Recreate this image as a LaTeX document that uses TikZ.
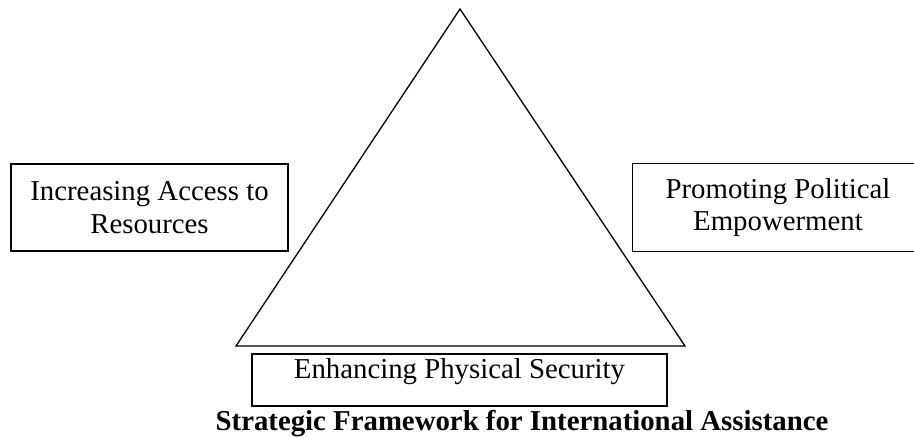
\documentclass[tikz,border=0pt]{standalone}
\usepackage{fontspec}
\setmainfont{Liberation Serif}
\begin{document}
\begin{tikzpicture}[x=1pt,y=-1pt,
  framebox/.style={draw=black, line width=1.3pt, inner sep=0pt, align=center,
    font=\fontsize{28.8}{32.5}\selectfont},
  openbox/.style={inner sep=0pt, align=center, font=\fontsize{28.8}{32.5}\selectfont},
  outline/.style={draw=black, line width=1.3pt},
  titletext/.style={inner sep=0pt, font=\fontsize{28.8}{32.5}\selectfont\bfseries}]
\useasboundingbox (0,0) rectangle (914,437);
\begin{scope}
\clip (0,0) rectangle (914,437);
\coordinate (apex) at (460,9);
\coordinate (bl) at (236,346);
\coordinate (br) at (685,346);
\draw[outline, line join=miter] (apex) -- (bl) -- (br) -- cycle;
\node[framebox, minimum width=277pt, minimum height=87pt] (res) at (149.5,207.5) {Increasing Access to\\Resources};
\node[openbox, minimum width=290pt, minimum height=87pt] (pol) at (778,207.5) {Promoting Political\\Empowerment};
\draw[outline] (pol.north east) -- (pol.north west) -- (pol.south west) -- (pol.south east);
\node[framebox, minimum width=415pt, minimum height=52pt, text height=24pt, text depth=28pt] (sec) at (459.5,380) {Enhancing Physical Security};
\node[titletext, anchor=base] (title) at (522,430) {Strategic Framework for International Assistance};
\end{scope}
\end{tikzpicture}
\end{document}
